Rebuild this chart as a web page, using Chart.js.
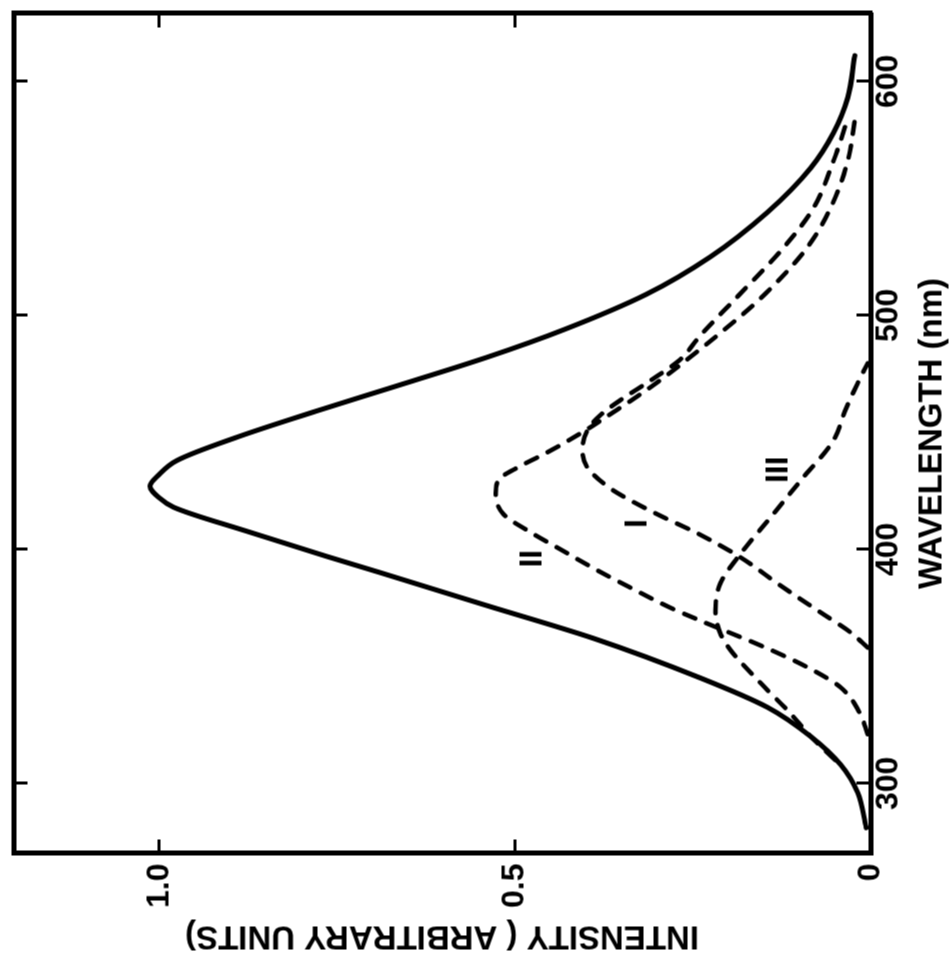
<!DOCTYPE html>
<html>
<head>
<meta charset="utf-8">
<title>Emission spectra</title>
<script src="https://cdn.jsdelivr.net/npm/chart.js@4.4.1/dist/chart.umd.min.js"></script>
<style>
  html, body { margin: 0; padding: 0; background: #fff; overflow: hidden; }
  #wrap { position: relative; width: 952px; height: 961px; }
  /* the plot is drawn in the usual landscape layout, then turned a quarter turn */
  #spectra { position: absolute; left: -4.5px; top: 4.5px; transform: rotate(-90deg); }
</style>
</head>
<body>
<div id="wrap"><canvas id="spectra" width="961" height="952"></canvas></div>
<script>
// total emission
const totalWl  = [281, 296, 308, 320, 332.5, 345, 362, 376, 390, 397, 408, 418, 422, 427, 432, 438, 448, 459, 469, 482, 494, 509, 525, 544, 563, 578, 593, 611]
const totalInt = [0.006, 0.018, 0.042, 0.084, 0.145, 0.239, 0.39, 0.54, 0.689, 0.765, 0.88, 0.98, 1.0, 1.013, 1.0, 0.975, 0.89, 0.78, 0.675, 0.54, 0.43, 0.315, 0.225, 0.145, 0.084, 0.052, 0.032, 0.022]

// component I
const bandIWl  = [358, 364.5, 373, 384.6, 396.6, 406.8, 413.7, 421, 426.5, 435, 442.3, 450.9, 457.3, 463.7, 472, 481, 491.5, 508, 529, 546, 566, 584]
const bandIInt = [0.004, 0.028, 0.07, 0.127, 0.183, 0.243, 0.291, 0.338, 0.368, 0.398, 0.405, 0.398, 0.38, 0.352, 0.31, 0.268, 0.239, 0.187, 0.122, 0.08, 0.052, 0.032]

// component II
const bandIIWl  = [321, 330, 341, 349, 357, 370, 375, 384, 391, 400, 408, 415, 424, 430, 435, 441.5, 451, 458.5, 467, 472, 491.5, 508, 529, 546, 566, 585.5]
const bandIIInt = [0.004, 0.015, 0.042, 0.085, 0.14, 0.243, 0.281, 0.34, 0.384, 0.436, 0.482, 0.516, 0.527, 0.522, 0.496, 0.454, 0.4, 0.362, 0.32, 0.297, 0.215, 0.152, 0.089, 0.056, 0.032, 0.021]

// component III
const bandIIIWl  = [310, 320, 330, 343, 357, 364, 374, 385.5, 398, 412, 429.5, 446.6, 459, 471, 479.5]
const bandIIIInt = [0.05, 0.084, 0.113, 0.155, 0.197, 0.211, 0.218, 0.211, 0.183, 0.145, 0.098, 0.052, 0.036, 0.018, 0.004]

const curveLabels = ['I', 'II', 'III']
const labelWl  = [411, 396, 434]
const labelInt = [0.328, 0.475, 0.129]

const wavelengthTicks = [300, 400, 500, 600]
const intensityTicks = [0, 0.5, 1.0]
const intensityTickLabels = ['0', '0.5', '1.0']

const toPoints = (xs, ys) => xs.map((x, i) => ({ x: x, y: ys[i] }))

Chart.defaults.font.family = "'Liberation Sans', Arial, sans-serif"
Chart.defaults.font.weight = 'bold'
Chart.defaults.color = '#000'

const dashed = {
  borderColor: '#000',
  borderWidth: 4.5,
  borderDash: [12, 12],
  borderCapStyle: 'round',
  pointRadius: 0,
  fill: false,
  cubicInterpolationMode: 'monotone'
}

// roman numerals next to the component curves
const bandLabels = {
  id: 'bandLabels',
  afterDatasetsDraw(chart) {
    const { ctx, scales } = chart
    ctx.save()
    ctx.font = "bold 32px 'Liberation Sans', Arial, sans-serif"
    ctx.fillStyle = '#000'
    ctx.textAlign = 'center'
    ctx.textBaseline = 'middle'
    curveLabels.forEach((txt, i) => {
      ctx.fillText(txt, scales.x.getPixelForValue(labelWl[i]), scales.y.getPixelForValue(labelInt[i]))
    })
    ctx.restore()
  }
}

const frameAxis = (extra) => Object.assign({
  type: 'linear',
  border: { display: true, color: '#000', width: 5 },
  grid: { drawOnChartArea: false, drawTicks: true, tickLength: -14, tickWidth: 3, color: '#000' }
}, extra)

const setWlTicks = (s) => { s.ticks = wavelengthTicks.map(v => ({ value: v })) }
const setIntTicks = (s) => { s.ticks = intensityTicks.map(v => ({ value: v })) }

// fixed box sizes so the plot frame lands where it should; no extra label padding
const fitBox = (w, h) => (s) => {
  if (w !== null) s.width = w
  if (h !== null) s.height = h
  s.paddingTop = 0
  s.paddingBottom = 0
  s.paddingLeft = 0
  s.paddingRight = 0
}

new Chart(document.getElementById('spectra'), {
  type: 'line',
  data: {
    datasets: [
      {
        label: 'total',
        data: toPoints(totalWl, totalInt),
        borderColor: '#000',
        borderWidth: 5,
        borderCapStyle: 'round',
        pointRadius: 0,
        fill: false,
        cubicInterpolationMode: 'monotone'
      },
      Object.assign({ label: 'I', data: toPoints(bandIWl, bandIInt) }, dashed),
      Object.assign({ label: 'II', data: toPoints(bandIIWl, bandIIInt) }, dashed),
      Object.assign({ label: 'III', data: toPoints(bandIIIWl, bandIIIInt) }, dashed)
    ]
  },
  options: {
    responsive: false,
    devicePixelRatio: 1,
    animation: false,
    layout: { padding: { top: 13, right: 13, bottom: 0, left: 0 } },
    plugins: { legend: { display: false }, tooltip: { enabled: false } },
    scales: {
      x: frameAxis({
        position: 'bottom',
        min: 270, max: 629,
        afterBuildTicks: setWlTicks,
        afterFit: fitBox(null, 82),
        ticks: { font: { size: 32 }, padding: 13, maxRotation: 0, autoSkip: false },
        title: { display: true, text: 'WAVELENGTH (nm)', font: { size: 33 }, padding: 0 }
      }),
      x2: frameAxis({
        position: 'top',
        min: 270, max: 629,
        afterBuildTicks: setWlTicks,
        afterFit: fitBox(null, 0),
        ticks: { display: false }
      }),
      y: frameAxis({
        position: 'left',
        min: 0, max: 1.205,
        afterBuildTicks: setIntTicks,
        afterFit: fitBox(108, null),
        ticks: {
          font: { size: 32 }, padding: 24, autoSkip: false,
          callback: (v, i) => intensityTickLabels[i]
        },
        title: { display: true, text: 'INTENSITY ( ARBITRARY UNITS)', font: { size: 33 }, padding: { top: 6, bottom: 0 } }
      }),
      y2: frameAxis({
        position: 'right',
        min: 0, max: 1.205,
        afterBuildTicks: setIntTicks,
        afterFit: fitBox(0, null),
        ticks: { display: false }
      })
    }
  },
  plugins: [bandLabels]
})
</script>
</body>
</html>
